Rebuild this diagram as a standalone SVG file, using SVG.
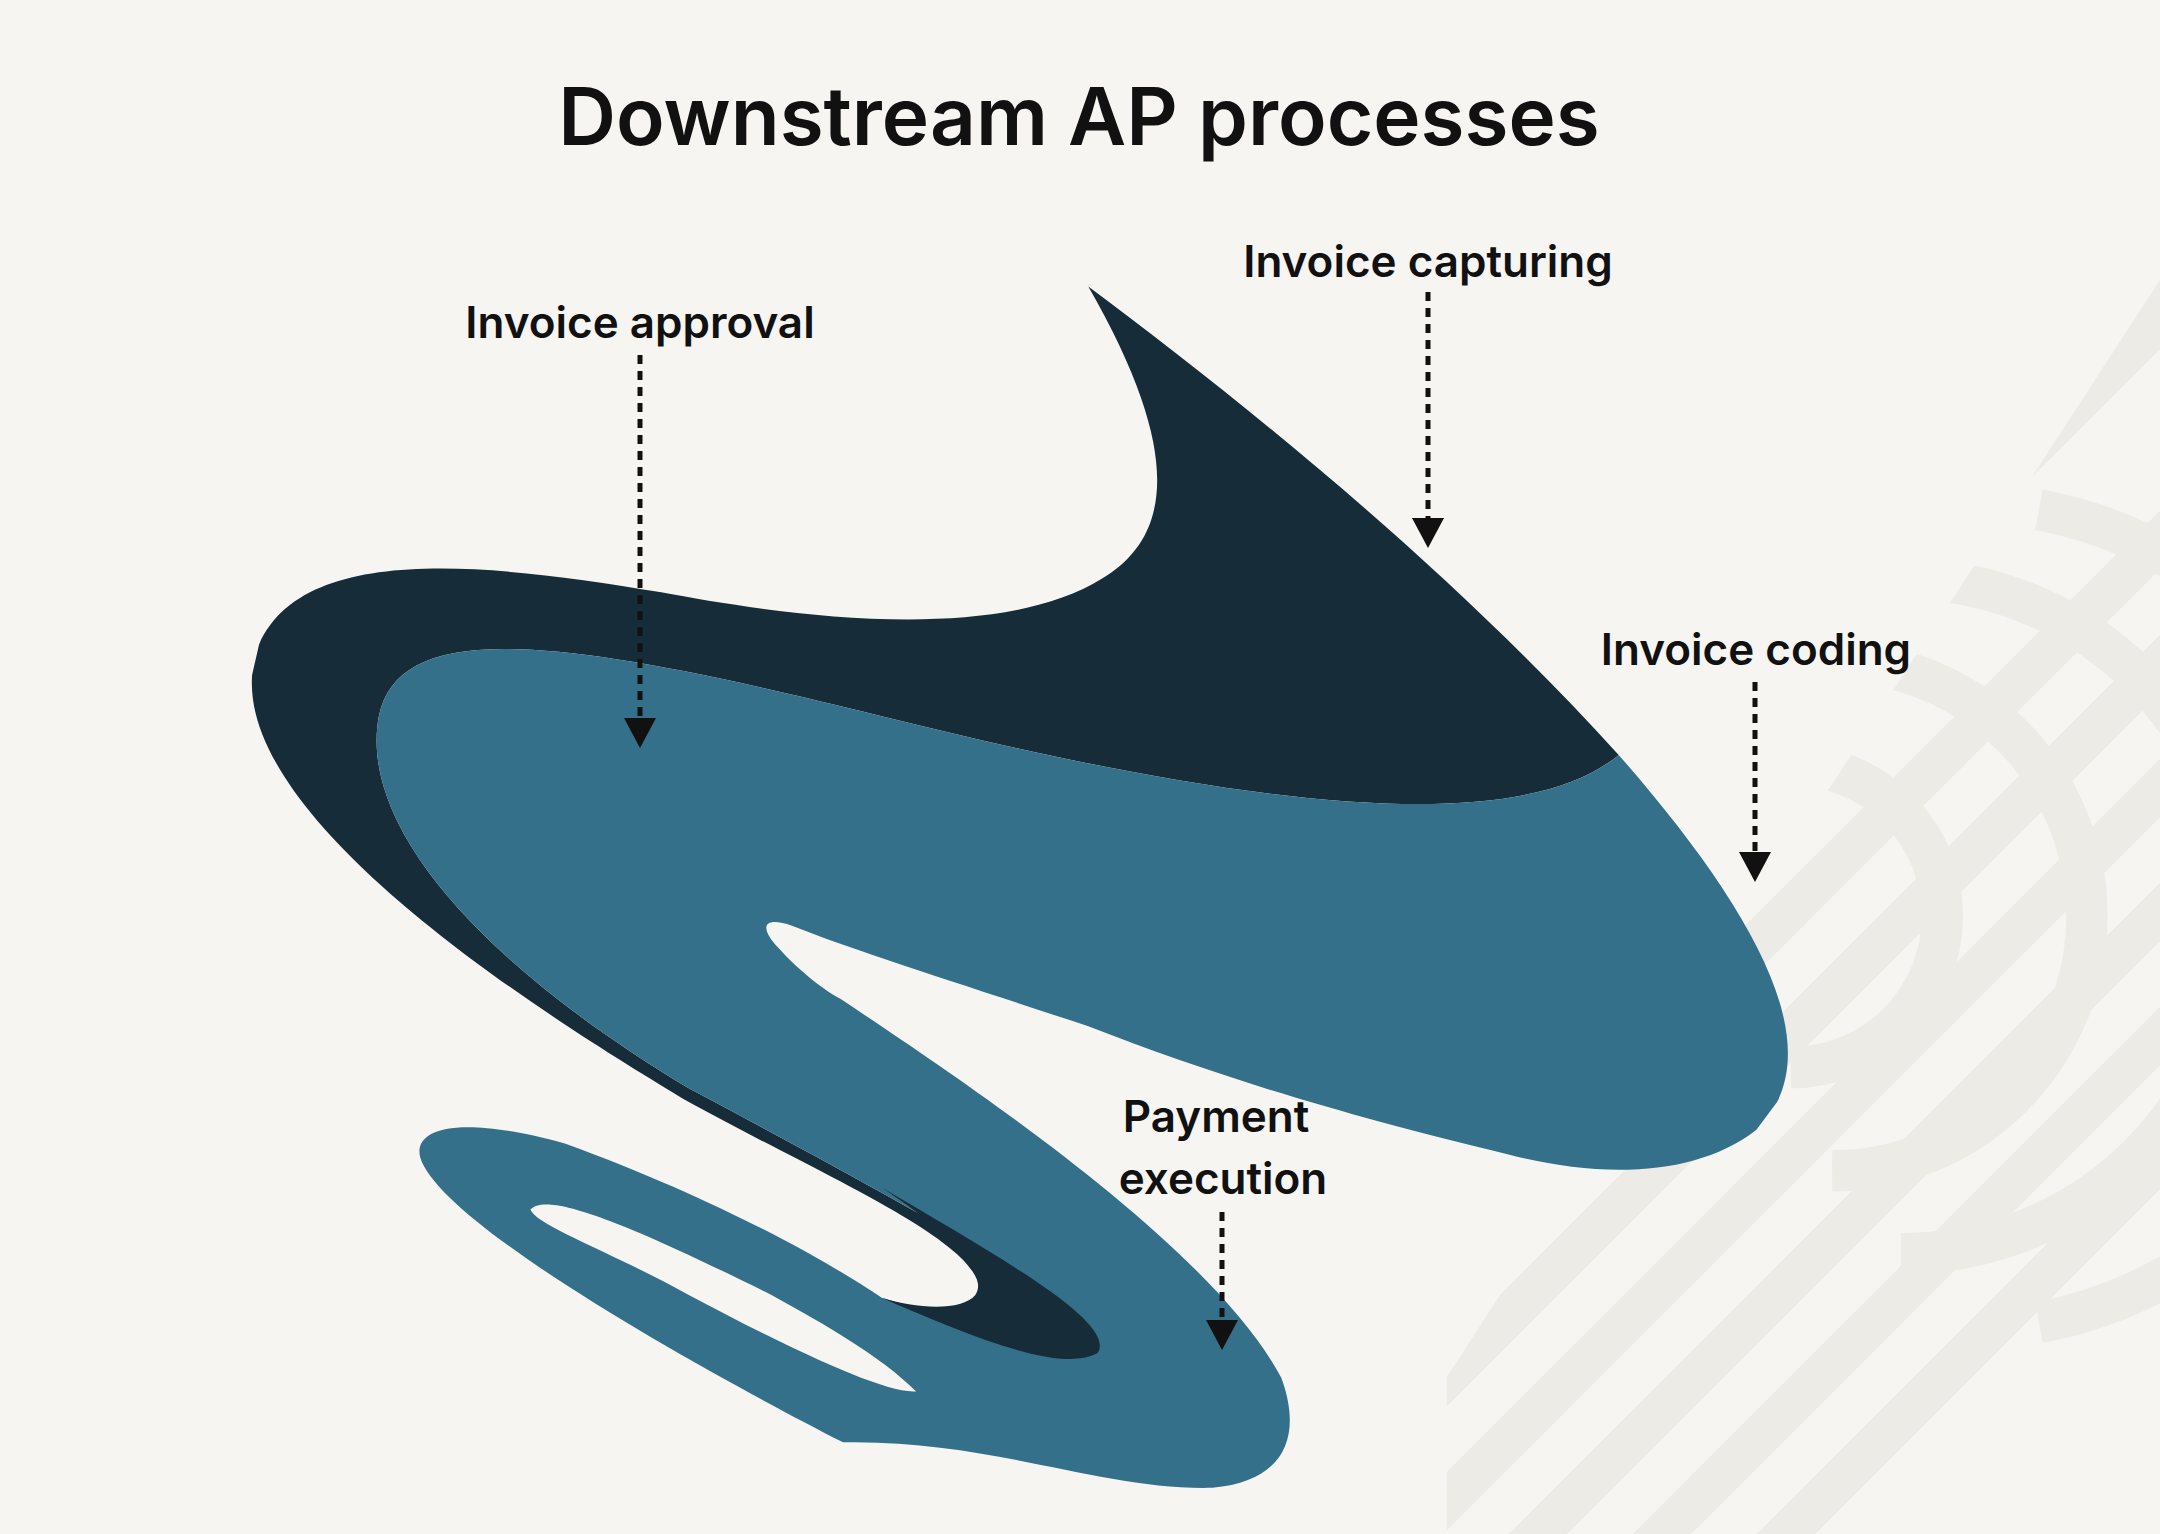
<svg xmlns="http://www.w3.org/2000/svg" width="2160" height="1534" viewBox="0 0 2160 1534">
<defs>
<style>
.lbl{font-family:Inter,"Noto Sans",sans-serif;font-weight:600;font-size:44px;fill:#111;text-anchor:middle}
.ttl{font-family:Inter,"Noto Sans",sans-serif;font-weight:600;font-size:80px;fill:#111;text-anchor:middle}
.dash{stroke:#111;stroke-width:5;stroke-dasharray:9 7;fill:none}
.stripe{stroke:#ecebe5;stroke-width:30;fill:none}
</style>
<marker id="ah" viewBox="0 0 10 10" refX="5" refY="10" markerWidth="6" markerHeight="6" markerUnits="strokeWidth" orient="auto-start-reverse">
<path d="M0,0 L10,0 L5,10 Z" fill="#111" transform="rotate(0)"/>
</marker>
<clipPath id="bgclip"><path d="M1050,1534 L1050,1000 L1700,0 L2160,0 L2160,1534 Z"/></clipPath>
</defs>
<rect width="2160" height="1534" fill="#f6f5f1"/>
<g id="background" transform="scale(1.3776)">
<g clip-path="url(#bgclip)">
<path class="stripe" d="M760,1200 L1700,260 M850,1200 L1790,260 M940,1200 L1880,260 M1030,1200 L1970,260 M1120,1200 L2060,260 M1210,1200 L2150,260"/>
<path class="stripe" d="M900,900 L1800,0 M960,820 L1800,-20 M1020,740 L1800,-40 M1080,660 L1800,-60"/>
<path class="stripe" d="M1300,555 A110,110 0 0 1 1300,775 M1330,480 A185,185 0 0 1 1330,850 M1380,420 A245,245 0 0 1 1380,910 M1480,370 A300,300 0 0 1 1480,960"/>
</g>
</g>
<g id="shapes" transform="scale(1.3776)">
<path id="dark" fill="#172c39" d="M790,208 C860,330 850,390 800,420 C720,470 560,445 480,430 C350,408 220,395 188,468 L183,490 C175,600 400,740 500,800 C600,855 720,905 710,940 C700,955 670,952 640,942 C700,972 780,1000 797,982 C810,955 650,870 500,790 C350,700 260,600 275,520 C290,450 400,460 640,520 C900,585 1100,610 1175,548 C1050,410 900,290 790,208 Z"/>
<path id="blue" fill="#35708b" d="M275,520 C290,450 400,460 640,520 C900,585 1100,610 1175,548 C1260,645 1320,740 1290,800 L1275,820 C1230,855 1160,855 1095,838 C970,808 880,780 790,745 C700,715 620,690 575,672 C555,665 550,672 565,688 C580,705 600,720 610,725 C700,785 880,905 930,1000 C945,1040 935,1075 880,1080 C800,1082 720,1045 612,1047 C520,1000 320,890 305,840 C300,820 330,808 410,830 C520,870 600,915 640,942 C700,968 770,995 797,982 C810,955 650,870 500,790 C350,700 260,600 275,520 Z"/>
<path id="darktip" fill="#172c39" d="M640,942 C700,968 770,998 797,982 C810,960 730,915 640,862 C690,895 718,925 708,940 C698,952 665,950 640,942 Z"/>
<path id="hole" fill="#f6f5f1" d="M385,878 C395,868 430,875 560,940 C600,962 640,985 665,1010 C640,1012 560,972 500,940 C440,907 390,890 385,878 Z"/>
</g>
<text class="ttl" x="1079" y="145">Downstream AP processes</text>
<g id="approval">
<text class="lbl" x="640" y="338">Invoice approval</text>
<line class="dash" x1="640" y1="355" x2="640" y2="718"/>
<path d="M624,718 L656,718 L640,748 Z" fill="#111"/>
</g>
<g id="capturing">
<text class="lbl" x="1428" y="277">Invoice capturing</text>
<line class="dash" x1="1428" y1="292" x2="1428" y2="518"/>
<path d="M1412,518 L1444,518 L1428,548 Z" fill="#111"/>
</g>
<g id="coding">
<text class="lbl" x="1756" y="665">Invoice coding</text>
<line class="dash" x1="1755" y1="682" x2="1755" y2="852"/>
<path d="M1739,852 L1771,852 L1755,882 Z" fill="#111"/>
</g>
<g id="payment">
<text class="lbl" x="1216" y="1132">Payment</text>
<text class="lbl" x="1223" y="1194">execution</text>
<line class="dash" x1="1222" y1="1212" x2="1222" y2="1320"/>
<path d="M1206,1320 L1238,1320 L1222,1350 Z" fill="#111"/>
</g>
</svg>
